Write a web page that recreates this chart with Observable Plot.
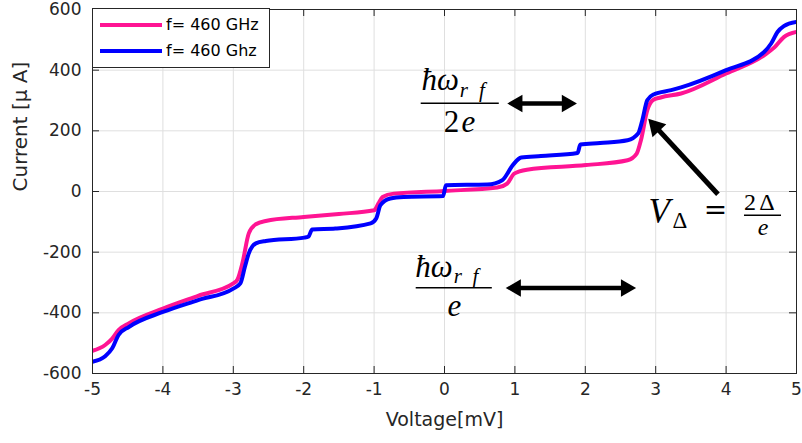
<!DOCTYPE html>
<html>
<head>
<meta charset="utf-8">
<script src="https://cdn.jsdelivr.net/npm/d3@7"></script>
<script src="https://cdn.jsdelivr.net/npm/@observablehq/plot@0.6"></script>
<style>
  body { margin: 0; background: #fff; }
  #wrap { position: relative; width: 802px; height: 443px; }
  #legend { position: absolute; left: 92px; top: 8px; width: 176px; height: 58px; border: 1px solid #262626; background: #fff; font-family: "DejaVu Sans", sans-serif; font-size: 16px; color: #000; }
  .sw { position: absolute; left: 7px; width: 62px; height: 4px; }
  .lab { position: absolute; left: 73px; line-height: 20px; white-space: nowrap; }
</style>
</head>
<body>
<div id="wrap"></div>
<script>
// ---- data ----
const xTicks = [-5, -4, -3, -2, -1, 0, 1, 2, 3, 4, 5];
const yTicks = [-600, -400, -200, 0, 200, 400, 600];
const seriesNames = ["f= 460 GHz", "f= 460 Ghz"];
const seriesColors = ["#ff1493", "#0000ff"];

const pinkV = [-5.00, -4.82, -4.72, -4.63, -4.48, -4.00, -3.50, -3.00, -2.94, -2.87, -2.78, -2.68, -2.54, -2.00, -1.50, -1.00, -0.94, -0.88, -0.72, 0.00, 0.75, 0.89, 0.99, 1.17, 2.01, 2.60, 2.73, 2.79, 2.88, 2.96, 3.07, 3.36, 4.00, 4.54, 4.69, 4.82, 5.00];
const pinkI = [-525, -506, -485, -457, -434, -386, -344, -303, -290, -236, -138, -108, -97, -84, -74, -62, -40, -18, -7, 2, 13, 26, 59, 72, 87, 103, 125, 169, 267, 301, 310, 323, 389, 449, 476, 509, 526];

const blueV = [-5.00, -4.82, -4.72, -4.63, -4.48, -4.00, -3.50, -3.00, -2.90, -2.835, -2.78, -2.68, -2.54, -1.99, -1.93, -1.88, -1.55, -1.05, -0.97, -0.91, -0.77, -0.58, -0.02, 0.02, 0.61, 0.82, 0.97, 1.09, 1.37, 1.89, 1.93, 2.21, 2.60, 2.75, 2.81, 2.88, 2.97, 3.22, 3.36, 4.00, 4.54, 4.64, 4.73, 4.82, 5.00];
const blueI = [-561, -543, -517, -473, -446, -397, -358, -320, -303, -248, -204, -171, -163, -152, -148, -125, -122, -105, -89, -45, -23, -18, -15, 21, 23, 37, 87, 112, 117, 127, 155, 160, 169, 191, 235, 301, 320, 334, 343, 400, 460, 488, 526, 545, 559];

// ---- annotations (data coordinates) ----
const mathItalic = [
  {x: -0.06, y: 333.8, t: "ħω", s: 31}, {x: 0.275, y: 311.7, t: "r", s: 21}, {x: 0.53, y: 311.7, t: "f", s: 21}, {x: 0.34, y: 196.4, t: "e", s: 31},
  {x: -0.15, y: -281.4, t: "ħω", s: 31}, {x: 0.19, y: -302, t: "r", s: 21}, {x: 0.44, y: -302, t: "f", s: 21}, {x: 0.139, y: -410.9, t: "e", s: 31},
  {x: 3.05, y: -104.4, t: "V", s: 35}, {x: 4.524, y: -144, t: "e", s: 24}
];
const mathRoman = [
  {x: 0.10, y: 196.4, t: "2", s: 31},
  {x: 3.345, y: -121, t: "Δ", s: 23},
  {x: 4.34, y: -61.6, t: "2", s: 24}, {x: 4.58, y: -61.6, t: "Δ", s: 24}
];
const mathOps = [{x: 3.848, y: -90, t: "=", s: 28}];
const fracLines = [
  {x1: -0.338, x2: 0.771, y: 291},
  {x1: -0.409, x2: 0.672, y: -317.6},
  {x1: 4.254, x2: 4.78, y: -78.1}
];
const doubleArrows = [
  {x1: 0.893, y1: 290, x2: 1.88, y2: 290},
  {x1: 0.871, y1: -318, x2: 2.72, y2: -318}
];
const singleArrows = [
  {x1: 3.884, y1: -9, x2: 2.90, y2: 238}
];

// ---- build ----
const pink = pinkV.map((v, i) => ({v, c: pinkI[i]}));
const blue = blueV.map((v, i) => ({v, c: blueI[i]}));

const W = 802, H = 443, mL = 92, mR = 6, mT = 9, mB = 70;
const fw = W - mL - mR, fh = H - mT - mB, tk = 7;
const axisColor = "#262626", gridColor = "#dfdfdf";
const serif = "Liberation Serif, serif";

const chart = Plot.plot({
  width: W, height: H,
  marginLeft: mL, marginRight: mR, marginTop: mT, marginBottom: mB,
  x: {domain: [-5, 5], axis: null},
  y: {domain: [-600, 600], axis: null},
  style: {background: "#fff", fontFamily: "DejaVu Sans, sans-serif"},
  marks: [
    Plot.ruleX(xTicks, {x: d => d, stroke: gridColor}),
    Plot.ruleY(yTicks, {y: d => d, stroke: gridColor}),
    Plot.line(pink, {x: "v", y: "c", stroke: seriesColors[0], strokeWidth: 4, curve: "monotone-x", clip: true}),
    Plot.line(blue, {x: "v", y: "c", stroke: seriesColors[1], strokeWidth: 4, curve: "monotone-x", clip: true}),
    Plot.frame({stroke: axisColor}),
    Plot.ruleX(xTicks, {x: d => d, insetTop: fh - tk, stroke: axisColor}),
    Plot.ruleX(xTicks, {x: d => d, insetBottom: fh - tk, stroke: axisColor}),
    Plot.ruleY(yTicks, {y: d => d, insetRight: fw - tk, stroke: axisColor}),
    Plot.ruleY(yTicks, {y: d => d, insetLeft: fw - tk, stroke: axisColor}),
    Plot.text(xTicks, {x: d => d, text: d => String(d), frameAnchor: "bottom", dy: 21, fontSize: 17, fill: axisColor}),
    Plot.text(yTicks, {y: d => d, text: d => String(d), frameAnchor: "left", textAnchor: "end", dx: -11, fontSize: 17, fill: axisColor}),
    Plot.text(["Voltage[mV]"], {text: d => d, frameAnchor: "bottom", dy: 52, fontSize: 19, fill: axisColor}),
    Plot.text(["Current [μ A]"], {text: d => d, frameAnchor: "left", dx: -72, rotate: -90, fontSize: 20, fill: axisColor}),
    // math annotations
    Plot.text(mathItalic, {x: "x", y: "y", text: "t", fontSize: "s", fontStyle: "italic", lineAnchor: "bottom", fontFamily: serif, fill: "#000"}),
    Plot.text(mathRoman, {x: "x", y: "y", text: "t", fontSize: "s", lineAnchor: "bottom", fontFamily: serif, fill: "#000"}),
    Plot.text(mathOps, {x: "x", y: "y", text: "t", fontSize: "s", lineAnchor: "bottom", fontFamily: "DejaVu Serif, serif", fill: "#000"}),
    Plot.link(fracLines, {x1: "x1", x2: "x2", y1: "y", y2: "y", stroke: "#000", strokeWidth: 1.5}),
    Plot.arrow(doubleArrows, {x1: "x1", y1: "y1", x2: "x2", y2: "y2", headLength: 0, insetStart: 10, insetEnd: 10, stroke: "#000", strokeWidth: 4.5, strokeLinecap: "butt"}),
    Plot.arrow(singleArrows, {x1: "x1", y1: "y1", x2: "x2", y2: "y2", headLength: 0, insetEnd: 10, stroke: "#000", strokeWidth: 5, strokeLinecap: "butt"}),
    Plot.dot(doubleArrows, {x: "x2", y: "y2", symbol: "triangle", r: 6.5, fill: "#000", stroke: null, rotate: 90, dx: -10}),
    Plot.dot(doubleArrows, {x: "x1", y: "y1", symbol: "triangle", r: 6.5, fill: "#000", stroke: null, rotate: -90, dx: 10}),
    Plot.dot(singleArrows, {x: "x2", y: "y2", symbol: "triangle", r: 7, fill: "#000", stroke: null, rotate: -43, dx: 7, dy: 7.5})
  ]
});

const wrap = document.getElementById("wrap");
wrap.appendChild(chart);

// legend
const legend = document.createElement("div");
legend.id = "legend";
seriesNames.forEach((name, i) => {
  const cy = i === 0 ? 16 : 42;
  const sw = document.createElement("div");
  sw.className = "sw";
  sw.style.top = (cy - 2) + "px";
  sw.style.background = seriesColors[i];
  const lab = document.createElement("div");
  lab.className = "lab";
  lab.style.top = (cy - 10) + "px";
  lab.textContent = name;
  legend.appendChild(sw);
  legend.appendChild(lab);
});
wrap.appendChild(legend);
</script>
</body>
</html>
